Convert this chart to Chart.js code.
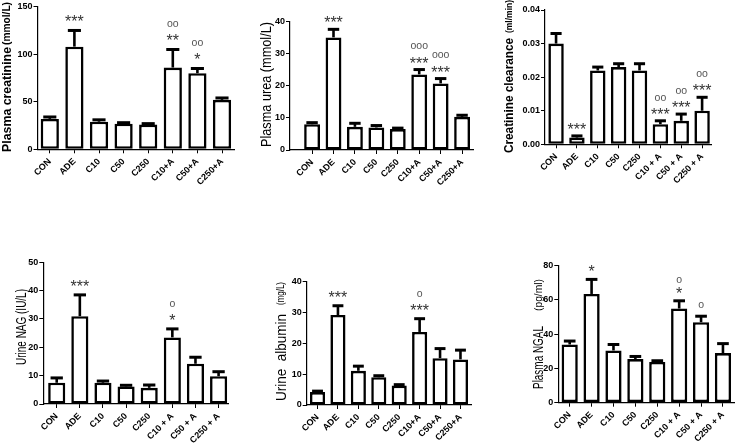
<!DOCTYPE html>
<html><head><meta charset="utf-8">
<script src="https://cdn.jsdelivr.net/npm/chart.js@4.4.1/dist/chart.umd.min.js"></script>
<style>
html,body{margin:0;padding:0;background:#fff;}
#wrap{position:relative;width:735px;height:443px;overflow:hidden;background:#fff}
canvas{position:absolute;display:block}
</style></head><body><div id="wrap">
<canvas id="c1" width="240" height="215" style="left:0;top:0"></canvas>
<canvas id="c2" width="240" height="215" style="left:240px;top:0"></canvas>
<canvas id="c3" width="255" height="215" style="left:480px;top:0"></canvas>
<canvas id="c4" width="240" height="218" style="left:0;top:225px"></canvas>
<canvas id="c5" width="240" height="218" style="left:240px;top:225px"></canvas>
<canvas id="c6" width="255" height="218" style="left:480px;top:225px"></canvas>
</div>
<script>
// ---------- data ----------
const groupsPlain  = ['CON','ADE','C10','C50','C250','C10+A','C50+A','C250+A'];
const groupsSpaced = ['CON','ADE','C10','C50','C250','C10 + A','C50 + A','C250 + A'];

const creatinineMean = [32, 108, 29, 27, 26, 86, 80, 52];
const creatinineSem  = [2, 17, 2, 1, 1, 19, 5, 2];
const creatinineStars   = ['', '***', '', '', '', '**', '*', ''];
const creatinineCircles = ['', '', '', '', '', 'oo', 'oo', ''];
const creatinineTicks = [0, 50, 100, 150];

const ureaMean = [8, 35, 7.2, 7, 6.5, 23.5, 20.7, 10.3];
const ureaSem  = [0.5, 2.5, 1.1, 0.6, 0.3, 1.5, 1.5, 0.5];
const ureaStars   = ['', '***', '', '', '', '***', '***', ''];
const ureaCircles = ['', '', '', '', '', 'ooo', 'ooo', ''];
const ureaTicks = [0, 10, 20, 30, 40];

const clearanceMean = [0.030, 0.002, 0.022, 0.023, 0.022, 0.006, 0.007, 0.010];
const clearanceSem  = [0.003, 0.0005, 0.001, 0.001, 0.002, 0.001, 0.002, 0.004];
const clearanceStars   = ['', '***', '', '', '', '***', '***', '***'];
const clearanceCircles = ['', '', '', '', '', 'oo', 'oo', 'oo'];
const clearanceTicks = [0, 0.01, 0.02, 0.03, 0.04];

const nagMean = [7.5, 31, 7.5, 6.2, 5.7, 23.5, 14.2, 9.8];
const nagSem  = [1.7, 7.5, 0.6, 0.4, 1.0, 3.0, 2.3, 1.6];
const nagStars   = ['', '***', '', '', '', '*', '', ''];
const nagCircles = ['', '', '', '', '', 'o', '', ''];
const nagTicks = [0, 10, 20, 30, 40, 50];

const albuminMean = [4.2, 29.2, 11.1, 9.0, 6.3, 23.7, 15.2, 14.8];
const albuminSem  = [0.3, 3.0, 1.5, 0.5, 0.3, 4.3, 3.1, 3.0];
const albuminStars   = ['', '***', '', '', '', '***', '', ''];
const albuminCircles = ['', '', '', '', '', 'o', '', ''];
const albuminTicks = [0, 10, 20, 30, 40];

const ngalMean = [34, 63.5, 30.5, 25.5, 23.8, 55, 47, 29];
const ngalSem  = [2, 8.5, 3.5, 1.5, 0.7, 4.5, 3.5, 5.5];
const ngalStars   = ['', '*', '', '', '', '*', '', ''];
const ngalCircles = ['', '', '', '', '', 'o', 'o', ''];
const ngalTicks = [0, 20, 40, 60, 80];

// ---------- plugins ----------
const FAM = "'Liberation Sans', Arial, sans-serif";

function drawCentered(ctx, text, x, cy, font, color) {
  ctx.font = font; ctx.fillStyle = color;
  ctx.textAlign = 'center'; ctx.textBaseline = 'alphabetic';
  const m = ctx.measureText(text);
  const off = (m.actualBoundingBoxAscent - m.actualBoundingBoxDescent) / 2;
  ctx.fillText(text, x, cy + off);
}

const errorBarPlugin = {
  id: 'errbars',
  afterDatasetsDraw(chart, args, o) {
    const ctx = chart.ctx;
    const meta = chart.getDatasetMeta(0);
    const ys = chart.scales.y;
    ctx.save();
    meta.data.forEach((bar, i) => {
      const v = o.means[i], e = o.sems[i];
      const yBar = ys.getPixelForValue(v);
      const yTop = ys.getPixelForValue(v + e);
      const w = bar.width * 0.72;
      ctx.strokeStyle = '#000'; ctx.lineWidth = 2.6; ctx.lineCap = 'butt';
      ctx.beginPath(); ctx.moveTo(bar.x, yBar); ctx.lineTo(bar.x, yTop); ctx.stroke();
      ctx.lineWidth = 3;
      ctx.beginPath(); ctx.moveTo(bar.x - w / 2, yTop); ctx.lineTo(bar.x + w / 2, yTop); ctx.stroke();
      let cy = yTop - (o.starGap || 12);
      if (o.stars[i]) {
        drawCentered(ctx, o.stars[i], bar.x, cy, '16px ' + FAM, '#333');
        cy -= (o.circleGap || 13);
      }
      if (o.circles[i]) {
        drawCentered(ctx, o.circles[i], bar.x, cy, '10.5px ' + FAM, '#555');
      }
    });
    ctx.restore();
  }
};

const yTitlePlugin = {
  id: 'ytitle',
  afterDraw(chart, args, o) {
    const ctx = chart.ctx;
    (o.parts || []).forEach(p => {
      ctx.save();
      ctx.font = p.font; ctx.fillStyle = '#000';
      const w = ctx.measureText(p.text).width;
      const s = (p.y0 - p.y1) / w;
      ctx.translate(o.x, p.y0);
      ctx.rotate(-Math.PI / 2);
      ctx.scale(s, 1);
      ctx.textAlign = 'left'; ctx.textBaseline = 'middle';
      ctx.fillText(p.text, 0, 0);
      ctx.restore();
    });
  }
};

function makeChart(id, c) {
  new Chart(document.getElementById(id), {
    type: 'bar',
    data: {
      datasets: [{
        data: c.means.map((v, i) => ({ x: i, y: v })),
        backgroundColor: '#fff', borderColor: '#000', borderWidth: 2.6,
        borderSkipped: false, barPercentage: 0.74, categoryPercentage: 1
      }]
    },
    options: {
      responsive: false, animation: false, events: [],
      layout: { padding: { top: c.padTop, right: c.padRight, left: 0, bottom: 0 } },
      plugins: {
        legend: { display: false }, tooltip: { enabled: false },
        errbars: { means: c.means, sems: c.sems, stars: c.stars, circles: c.circles, starGap: c.starGap, circleGap: c.circleGap },
        ytitle: { x: c.titleX, parts: c.titleParts }
      },
      scales: {
        x: {
          type: 'linear', min: c.xmin, max: c.xmax, offset: false,
          afterBuildTicks: s => { s.ticks = c.labels.map((l, i) => ({ value: i })); },
          afterFit: s => { s.height = c.xh; s.paddingLeft = 0; s.paddingRight = 0; },
          ticks: {
            autoSkip: false, minRotation: 45, maxRotation: 45, padding: 3, color: '#000',
            font: { family: FAM, size: 9, weight: 'bold' },
            callback: v => c.labels[v]
          },
          grid: { offset: false, drawOnChartArea: false, drawTicks: true, tickLength: 4, color: '#000', lineWidth: 1 },
          border: { display: true, color: '#000', width: 1.2 }
        },
        y: {
          min: 0, max: c.yTicks[c.yTicks.length - 1],
          afterBuildTicks: s => { s.ticks = c.yTicks.map(v => ({ value: v })); },
          afterFit: s => { s.width = c.yw; s.paddingTop = 0; s.paddingBottom = 0; },
          ticks: {
            padding: 1, color: '#000',
            font: { family: FAM, size: 9, weight: 'bold' },
            callback: v => c.fmt ? c.fmt(v) : String(v)
          },
          grid: { drawOnChartArea: false, drawTicks: true, tickLength: 4, color: '#000', lineWidth: 1 },
          border: { display: true, color: '#000', width: 1.2 }
        }
      }
    },
    plugins: [errorBarPlugin, yTitlePlugin]
  });
}

makeChart('c1', {
  means: creatinineMean, sems: creatinineSem, stars: creatinineStars, circles: creatinineCircles,
  labels: groupsPlain, yTicks: creatinineTicks,
  xmin: -0.5, xmax: 7.5, yw: 37.5, padTop: 6.7, xh: 65.7, padRight: 5.7,
  titleX: 7.5,
  titleParts: [
    { text: 'Plasma creatinine', font: 'bold 13.5px ' + FAM, y0: 152, y1: 47 },
    { text: '(mmol/L)', font: 'bold 10px ' + FAM, y0: 45, y1: 2 }
  ]
});
makeChart('c2', {
  means: ureaMean, sems: ureaSem, stars: ureaStars, circles: ureaCircles,
  labels: groupsPlain, yTicks: ureaTicks,
  xmin: -1.03, xmax: 7.51, yw: 50, padTop: 21.3, xh: 65, padRight: 7,
  titleX: 27, circleGap: 14, starGap: 10,
  titleParts: [
    { text: 'Plasma urea (mmol/L)', font: '14px ' + FAM, y0: 147, y1: 22 }
  ]
});
makeChart('c3', {
  means: clearanceMean, sems: clearanceSem, stars: clearanceStars, circles: clearanceCircles,
  labels: groupsSpaced, yTicks: clearanceTicks, fmt: v => v.toFixed(2),
  xmin: -0.53, xmax: 7.46, yw: 65, padTop: 10, xh: 70.7, padRight: 23.3,
  titleX: 29, starGap: 10,
  titleParts: [
    { text: 'Creatinine clearance', font: 'bold 13px ' + FAM, y0: 153, y1: 38 },
    { text: '(ml/min)', font: 'bold 9.5px ' + FAM, y0: 33, y1: 0 }
  ]
});
makeChart('c4', {
  means: nagMean, sems: nagSem, stars: nagStars, circles: nagCircles,
  labels: groupsSpaced, yTicks: nagTicks,
  xmin: -0.58, xmax: 7.42, yw: 43.3, padTop: 37.3, xh: 39, padRight: 11.7,
  titleX: 21.5,
  titleParts: [
    { text: 'Urine NAG (IU/L)', font: '14.5px ' + FAM, y0: 140, y1: 64 }
  ]
});
makeChart('c5', {
  means: albuminMean, sems: albuminSem, stars: albuminStars, circles: albuminCircles,
  labels: groupsPlain, yTicks: albuminTicks,
  xmin: -0.53, xmax: 7.55, yw: 66.7, padTop: 56.7, xh: 38, padRight: 8.3,
  titleX: 41.5,
  titleParts: [
    { text: 'Urine  albumin', font: '14.5px ' + FAM, y0: 176, y1: 89 },
    { text: '(mg/L)', font: '10px ' + FAM, y0: 80, y1: 57 }
  ]
});
makeChart('c6', {
  means: ngalMean, sems: ngalSem, stars: ngalStars, circles: ngalCircles,
  labels: groupsSpaced, yTicks: ngalTicks,
  xmin: -0.52, xmax: 7.55, yw: 78.3, padTop: 40.7, xh: 40.3, padRight: 0,
  titleX: 59, starGap: 11, circleGap: 10,
  titleParts: [
    { text: 'Plasma NGAL', font: '14.5px ' + FAM, y0: 164, y1: 101 },
    { text: '(pg/ml)', font: '10px ' + FAM, y0: 86, y1: 54 }
  ]
});
</script>
</body></html>
